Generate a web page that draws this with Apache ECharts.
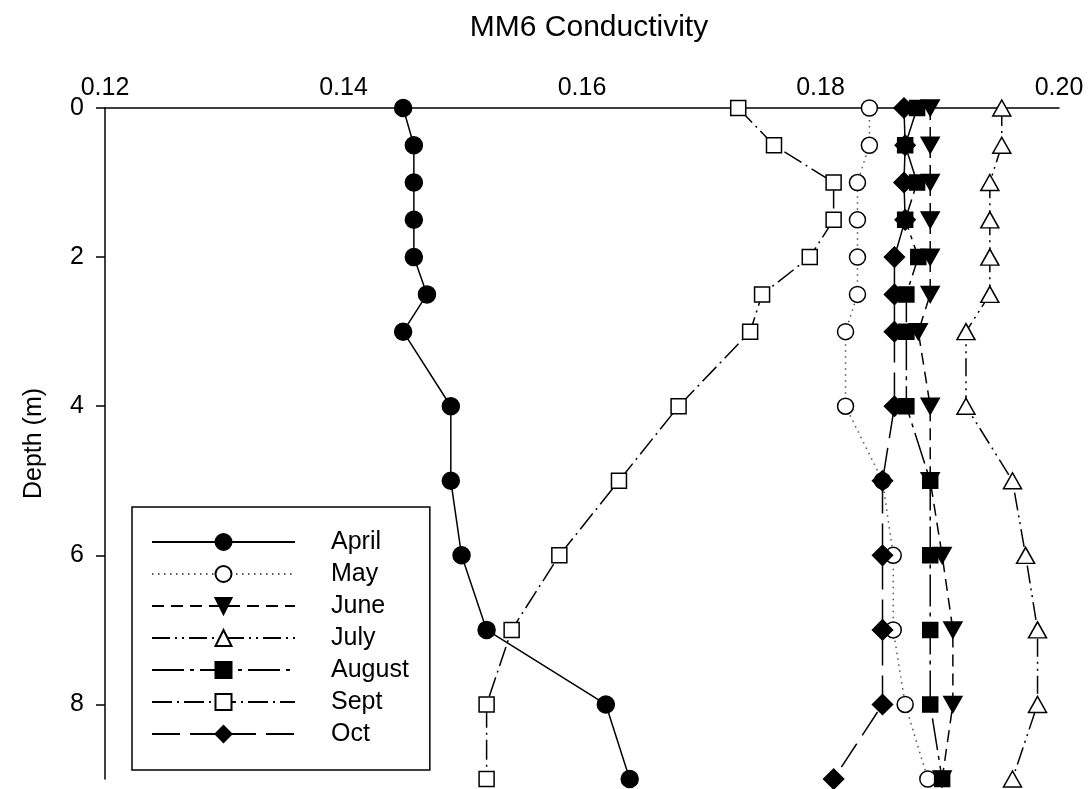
<!DOCTYPE html>
<html><head><meta charset="utf-8">
<script src="https://cdn.jsdelivr.net/npm/echarts@6/dist/echarts.min.js"></script>
<style>html,body{margin:0;padding:0;background:#fff}#c{width:1092px;height:789px}</style>
</head><body><div id="c"></div>
<script>
const depths = [0, 0.5, 1, 1.5, 2, 2.5, 3, 4, 5, 6, 7, 8, 9];
const xTicks = [0.12, 0.14, 0.16, 0.18, 0.20];
const yTicks = [0, 2, 4, 6, 8];
const april  = [0.1450, 0.1459, 0.1459, 0.1459, 0.1459, 0.1470, 0.1450, 0.1490, 0.1490, 0.1499, 0.1520, 0.1620, 0.1640];
const may    = [0.1841, 0.1841, 0.1831, 0.1831, 0.1831, 0.1831, 0.1821, 0.1821, 0.1852, 0.1861, 0.1861, 0.1871, 0.1890];
const june   = [0.1892, 0.1892, 0.1892, 0.1892, 0.1892, 0.1892, 0.1882, 0.1892, 0.1892, 0.1902, 0.1911, 0.1911, 0.1902];
const july   = [0.1952, 0.1952, 0.1942, 0.1942, 0.1942, 0.1942, 0.1922, 0.1922, 0.1961, 0.1972, 0.1982, 0.1982, 0.1961];
const august = [0.1881, 0.1871, 0.1881, 0.1871, 0.1882, 0.1872, 0.1872, 0.1872, 0.1892, 0.1892, 0.1892, 0.1892, 0.1902];
const sept   = [0.1731, 0.1761, 0.1811, 0.1811, 0.1791, 0.1751, 0.1741, 0.1681, 0.1631, 0.1581, 0.1541, 0.1520, 0.1520];
const oct    = [0.1870, 0.1871, 0.1870, 0.1871, 0.1862, 0.1862, 0.1862, 0.1862, 0.1852, 0.1852, 0.1852, 0.1852, 0.1811];

const FONT = "'Liberation Sans', Arial, sans-serif";

function mk(name, vals, symbol, size, fill, dash, rotate, lineColor) {
  return {
    name: name,
    type: 'line',
    data: vals.map((v, i) => [v, depths[i]]),
    symbol: symbol,
    symbolSize: size,
    symbolRotate: rotate || 0,
    showAllSymbol: true,
    lineStyle: { color: lineColor || '#000', width: 1.5, type: dash },
    itemStyle: { color: fill, borderColor: '#000', borderWidth: 1.5, opacity: 1 },
    emphasis: { disabled: true },
    z: 2
  };
}

const chart = echarts.init(document.getElementById('c'), null, { renderer: 'canvas' });
chart.setOption({
  animation: false,
  backgroundColor: '#fff',
  title: {
    text: 'MM6 Conductivity',
    left: 584, top: 8, textAlign: 'center',
    textStyle: { fontFamily: FONT, fontSize: 30, fontWeight: 'normal', color: '#000' }
  },
  grid: { left: 105, right: 33, top: 108, bottom: 10, containLabel: false },
  legend: {
    orient: 'vertical',
    left: 132, top: 507,
    padding: [22, 21, 23, 19],
    borderColor: '#000', borderWidth: 1.5,
    itemWidth: 143, itemHeight: 20, itemGap: 6,
    selectedMode: false,
    textStyle: { fontFamily: FONT, fontSize: 25, color: '#000', lineHeight: 26, padding: [0, 0, 0, 31] },
    data: ['April', 'May', 'June', 'July', 'August', 'Sept', 'Oct']
  },
  xAxis: {
    type: 'value', position: 'top',
    min: xTicks[0], max: xTicks[xTicks.length - 1], interval: 0.02,
    axisLine: { show: true, lineStyle: { color: '#000', width: 1.5 } },
    axisTick: { show: false },
    splitLine: { show: false },
    axisLabel: {
      color: '#000', fontFamily: FONT, fontSize: 25, margin: 7,
      customValues: xTicks,
      formatter: v => v.toFixed(2)
    }
  },
  yAxis: {
    type: 'value', inverse: true, min: 0, max: 9,
    name: 'Depth (m)', nameLocation: 'middle', nameGap: 58,
    nameTextStyle: { fontFamily: FONT, fontSize: 25, color: '#000' },
    axisLine: { show: true, lineStyle: { color: '#000', width: 1.5 } },
    axisTick: { show: true, length: 9, inside: false, lineStyle: { color: '#000', width: 1.5 }, customValues: yTicks },
    splitLine: { show: false },
    axisLabel: { color: '#000', fontFamily: FONT, fontSize: 25, margin: 21, customValues: yTicks }
  },
  series: [
    mk('April', april, 'circle', 17, '#000', 'solid'),
    mk('May', may, 'circle', 16, '#fff', [1.5, 4.5], 0, '#555'),
    mk('June', june, 'triangle', [18, 16], '#000', [12, 7], 180),
    mk('July', july, 'triangle', [18, 16], '#fff', [18, 5, 2, 5, 2, 5]),
    mk('August', august, 'rect', 15, '#000', [32, 6, 4, 6]),
    mk('Sept', sept, 'rect', 15, '#fff', [20, 5, 2, 5]),
    mk('Oct', oct, 'diamond', 20, '#000', [28, 10])
  ]
});
</script></body></html>
